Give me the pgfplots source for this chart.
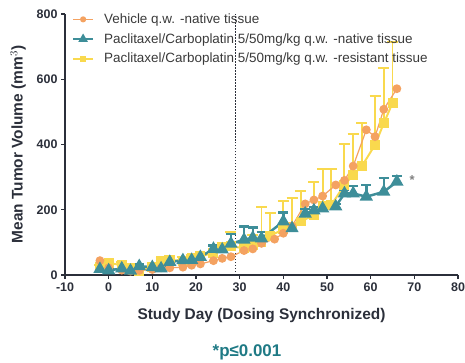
\documentclass[border=0pt]{standalone}
\usepackage{pgfplots}
\pgfplotsset{compat=1.18}
\usepackage{pgfplotstable}
\usepackage{fontspec}
\setmainfont{Liberation Sans}
\definecolor{cOr}{HTML}{F4A261}
\definecolor{cTe}{HTML}{3E8E99}
\definecolor{cYe}{HTML}{F9D94E}
\definecolor{cAx}{HTML}{2B2F3A}
\definecolor{cTx}{HTML}{3A3A3A}
\definecolor{cP}{HTML}{1F7A85}

\pgfplotstableread{
day val
-2 44
0 22
3 15
5 12
7 14
10 17
12 22
14 22
17 24
19 30
21 34
24 44
26 51
28 56
31 75
33 80
35 97
38 110
40 128
42 150
45 218
47 230
49 242
52 276
54 290
56 334
59 445
61 424
63 508
66 571
}\vehicle

\pgfplotstableread{
day val err
-2 18 5
0 14 5
3 20 8
5 13 5
7 27 5
10 24 8
12 20 8
14 40 8
17 45 8
19 46 8
21 55 8
24 80 10
26 78 15
28 96 30
31 108 40
33 114 32
35 112 20
40 164 27
42 143 15
45 188 15
47 198 10
49 204 8
52 210 8
54 250 11
56 250 23
59 240 36
63 255 42
66 286 18
}\native

\pgfplotstableread{
day val err
-2 25 5
0 37 8
3 30 10
5 20 5
7 12 5
10 25 8
12 42 10
14 46 12
17 44 10
19 52 10
21 57 10
24 68 12
26 82 15
28 88 45
31 82 20
33 92 30
35 100 108
37 120 71
40 140 88
42 148 87
44 164 95
47 184 102
49 212 112
51 215 109
54 276 125
56 307 124
58 334 131
61 399 150
63 465 169
65 527 186
}\resistant

\begin{document}
\begin{tikzpicture}
\begin{axis}[
  scale only axis,
  width=393bp, height=261bp,
  xmin=-10, xmax=80, ymin=0, ymax=800,
  axis lines=left,
  axis line style={cAx, line width=1.8pt, -},
  xtick={-10,0,...,80},
  ytick={0,200,...,800},
  tick style={cAx, line width=1.2pt},
  tick align=outside,
  major tick length=4bp,
  ticklabel style={font=\fontsize{12.5}{14}\selectfont\bfseries, text=cAx},
  /pgf/number format/assume math mode=true,
  xlabel={Study Day (Dosing Synchronized)},
  ylabel={Mean Tumor Volume (mm$^{3}$)},
  label style={font=\fontsize{15.5}{17}\selectfont\bfseries, text=cAx},
  xlabel style={yshift=-10bp},
  ylabel style={yshift=4bp},
  legend style={at={(rel axis cs:0.01,1.017)}, anchor=north west, draw=none, fill=none,
    font=\fontsize{13.5}{15}\selectfont, text=cTx, row sep=4.5bp,
    nodes={inner xsep=4bp},
    /tikz/every odd column/.append style={column sep=6bp}},
  legend image code/.code={
    \draw[mark repeat=2,mark phase=2,#1] plot coordinates {(0bp,0bp) (10bp,0bp) (20bp,0bp)};},
  legend cell align=left,
  clip=false,
]
\coordinate (ll) at (rel axis cs:0,0);
\coordinate (ur) at (rel axis cs:1,1);

\addlegendimage{cOr, line width=1.5pt, mark=*, mark size=2.3bp, mark options={solid}}
\addlegendentry{Vehicle q.w. -native tissue}
\addlegendimage{cTe, line width=2pt, mark=triangle*, mark size=3.6bp}
\addlegendentry{Paclitaxel/Carboplatin 5/50mg/kg q.w. -native tissue}
\addlegendimage{cYe, line width=1.4pt, mark=square*, mark size=2.6bp}
\addlegendentry{Paclitaxel/Carboplatin 5/50mg/kg q.w. -resistant tissue}

\draw[cAx, line width=1.4pt, dash pattern=on 1.5pt off 1.5pt] (axis cs:29,0) -- (axis cs:29,800);

\addplot[forget plot, cYe, line width=2pt, mark=square*, mark size=4bp,
  error bars/.cd, y dir=plus, y explicit,
  error bar style={cYe, line width=2pt},
  error mark options={cYe, rotate=90, mark size=5.5bp, line width=2pt}]
  table[x=day, y=val, y error=err] {\resistant};

\addplot[forget plot, cOr, line width=1.2pt, mark=*, mark size=3.8bp]
  table[x=day, y=val] {\vehicle};

\addplot[forget plot, cTe, line width=2.5pt, mark=triangle*, mark size=5.2bp,
  error bars/.cd, y dir=plus, y explicit,
  error bar style={cTe, line width=2.5pt},
  error mark options={cTe, rotate=90, mark size=5bp, line width=2.5pt}]
  table[x=day, y=val, y error=err] {\native};

\node[text=gray, font=\fontsize{13}{14}\selectfont\bfseries] at (axis cs:69.5,290) {*};
\end{axis}
\node[text=cP, font=\fontsize{17}{19}\selectfont\bfseries] at ([shift={(182bp,-77bp)}]ll) {*p≤0.001};
\pgfresetboundingbox
\path ([shift={(-65bp,-87bp)}]ll) rectangle ([shift={(7bp,14bp)}]ur);
\end{tikzpicture}
\end{document}
